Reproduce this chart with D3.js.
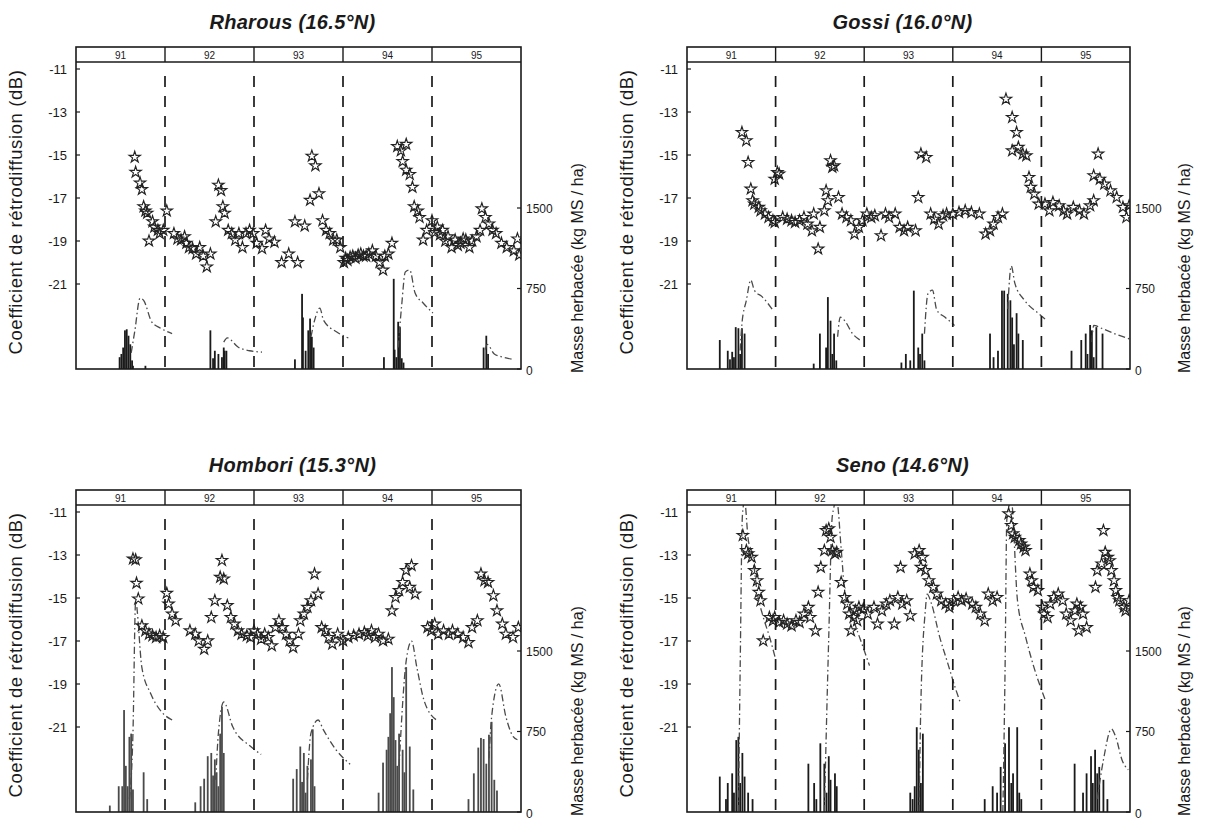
<!DOCTYPE html>
<html><head><meta charset="utf-8">
<script src="https://cdn.jsdelivr.net/npm/d3@7"></script>
<style>
body{margin:0;background:#fff;}
svg{display:block;font-family:"Liberation Sans",Arial,sans-serif;}
</style></head><body>
<svg id="c" width="1206" height="819"></svg>
<script>
const years = ["91","92","93","94","95"];
const dbTicks = [-11,-13,-15,-17,-19,-21];
const massTicks = [0,750,1500];
const siteNames = ["Rharous (16.5°N)","Gossi (16.0°N)","Hombori (15.3°N)","Seno (14.6°N)"];
const leftTitle = "Coefficient de rétrodiffusion (dB)";
const rightTitle = "Masse herbacée (kg MS / ha)";

// ---- Rharous ----
const rharousStars = [
[91.66,-15.1],[91.67,-15.8],[91.72,-16.3],[91.74,-16.6],[91.76,-17.4],[91.78,-17.6],[91.80,-17.7],[91.82,-19.0],[91.86,-18.1],[91.88,-18.35],[91.92,-18.5],[91.94,-18.65],[91.98,-18.5],
[92.02,-17.6],[92.10,-18.65],[92.14,-18.9],[92.18,-18.95],[92.22,-18.8],[92.24,-19.1],[92.27,-19.3],[92.31,-19.35],[92.35,-19.6],[92.39,-19.3],[92.43,-19.7],[92.47,-20.2],[92.51,-19.6],[92.57,-18.1],[92.60,-16.4],[92.63,-16.65],[92.65,-17.4],[92.67,-17.7],[92.71,-18.5],[92.75,-18.65],[92.79,-18.95],[92.83,-18.65],[92.87,-19.3],[92.91,-18.65],[92.95,-18.5],[92.99,-18.65],
[93.03,-19.1],[93.09,-19.35],[93.13,-18.5],[93.17,-18.9],[93.23,-19.05],[93.31,-20.0],[93.39,-19.6],[93.46,-18.1],[93.49,-20.0],[93.57,-18.3],[93.63,-17.1],[93.65,-15.05],[93.69,-15.5],[93.73,-16.8],[93.77,-18.05],[93.81,-18.5],[93.85,-18.65],[93.89,-18.95],[93.93,-18.95],[93.97,-19.3],
[94.01,-20.0],[94.03,-19.8],[94.05,-19.9],[94.08,-19.75],[94.11,-19.7],[94.14,-19.8],[94.17,-19.65],[94.20,-19.6],[94.23,-19.7],[94.26,-19.7],[94.29,-19.6],[94.33,-19.45],[94.37,-19.7],[94.41,-20.0],[94.45,-20.35],[94.47,-19.7],[94.51,-19.6],[94.55,-19.1],[94.61,-14.6],[94.65,-14.8],[94.67,-15.3],[94.71,-14.5],[94.71,-15.7],[94.75,-15.9],[94.78,-16.5],[94.80,-17.4],[94.84,-17.6],[94.86,-17.9],[94.90,-18.95],[94.94,-18.5],
[95.00,-18.05],[95.03,-18.6],[95.06,-18.35],[95.09,-18.7],[95.12,-18.5],[95.15,-19.0],[95.18,-18.8],[95.22,-19.3],[95.26,-18.95],[95.29,-19.2],[95.32,-19.1],[95.35,-18.9],[95.38,-18.95],[95.42,-19.3],[95.45,-19.0],[95.50,-18.8],[95.54,-18.5],[95.56,-17.5],[95.60,-17.9],[95.64,-18.2],[95.68,-18.5],[95.72,-18.65],[95.78,-19.1],[95.84,-19.3],[95.92,-19.45],[95.96,-18.9],[95.98,-19.65]
];
const rharousMass = [
[[91.62,150],[91.66,350],[91.72,660],[91.76,640],[91.85,440],[91.95,380],[92.08,330]],
[[92.66,250],[92.70,290],[92.82,205],[92.95,170],[93.09,158]],
[[93.64,300],[93.68,450],[93.74,568],[93.78,456],[93.93,345],[94.06,289]],
[[94.62,200],[94.66,600],[94.70,904],[94.75,922],[94.81,708],[94.90,615],[95.01,522]],
[[95.60,180],[95.62,230],[95.70,140],[95.80,110],[95.90,90]]
];
const rharousRain = [
[91.49,11],[91.51,14],[91.53,20],[91.55,36],[91.57,37],[91.59,31],[91.61,23],[91.63,8],[91.64,3],[91.78,3],
[92.51,36],[92.54,10],[92.56,17],[92.60,14],[92.64,11],[92.66,20],[92.67,17],[92.69,17],
[93.46,9],[93.54,70],[93.55,48],[93.58,17],[93.61,36],[93.63,47],[93.65,30],[93.67,20],
[94.46,11],[94.57,84],[94.58,18],[94.60,11],[94.62,44],[94.64,39],[94.66,10],[94.68,6],
[95.58,20],[95.61,31],[95.63,14]
];

// ---- Gossi ----
const gossiStars = [
[91.62,-13.95],[91.67,-14.33],[91.69,-15.34],[91.72,-16.58],[91.74,-17.12],[91.76,-17.28],[91.81,-17.43],[91.83,-17.59],[91.88,-17.74],[91.92,-17.9],[91.97,-18.05],[91.99,-18.13],[91.99,-16.12],
[92.02,-15.81],[92.04,-15.88],[92.08,-17.9],[92.13,-17.98],[92.18,-18.05],[92.22,-18.13],[92.27,-18.05],[92.32,-17.9],[92.36,-18.21],[92.41,-18.52],[92.43,-17.74],[92.48,-19.37],[92.50,-18.36],[92.55,-17.59],[92.57,-16.66],[92.59,-17.12],[92.62,-15.26],[92.64,-15.57],[92.66,-15.5],[92.71,-16.97],[92.75,-17.74],[92.80,-17.9],[92.85,-18.05],[92.89,-18.67],[92.94,-18.36],[92.98,-18.05],
[93.03,-17.74],[93.08,-17.9],[93.12,-17.82],[93.19,-18.75],[93.24,-17.74],[93.28,-17.9],[93.35,-17.74],[93.40,-18.36],[93.45,-18.52],[93.49,-18.36],[93.58,-18.52],[93.61,-16.97],[93.64,-14.95],[93.70,-15.11],[93.75,-17.74],[93.79,-17.98],[93.84,-18.21],[93.89,-17.82],[93.93,-17.74],
[94.00,-17.74],[94.07,-17.67],[94.14,-17.59],[94.21,-17.67],[94.30,-17.74],[94.37,-18.67],[94.42,-18.52],[94.46,-18.21],[94.51,-17.9],[94.56,-17.74],[94.60,-12.4],[94.67,-13.25],[94.72,-13.95],[94.67,-14.8],[94.74,-14.64],[94.79,-14.95],[94.83,-15.03],[94.86,-16.04],[94.88,-16.5],[94.92,-16.81],[94.97,-17.28],
[95.04,-17.28],[95.09,-17.59],[95.13,-17.2],[95.20,-17.36],[95.25,-17.59],[95.29,-17.74],[95.36,-17.43],[95.43,-17.59],[95.48,-17.74],[95.55,-17.36],[95.59,-17.12],[95.64,-14.95],[95.59,-15.96],[95.66,-16.12],[95.71,-16.35],[95.78,-16.66],[95.85,-16.97],[95.92,-17.43],[95.96,-17.9],[95.99,-17.36]
];
const gossiMass = [
[[91.60,172],[91.62,422],[91.67,640],[91.72,828],[91.76,734],[91.85,672],[91.97,547]],
[[92.70,300],[92.73,484],[92.78,450],[92.87,328],[92.96,266]],
[[93.68,328],[93.72,703],[93.77,734],[93.82,547],[93.91,484],[94.02,406]],
[[94.62,560],[94.66,960],[94.70,800],[94.81,640],[94.97,516],[95.06,453]],
[[95.57,250],[95.59,406],[95.69,375],[95.83,328],[95.99,281]]
];
const gossiRain = [
[91.37,27],[91.46,17],[91.485,9],[91.51,16],[91.53,11],[91.55,39],[91.58,38],[91.60,14],[91.62,38],[91.65,33],
[92.43,5],[92.50,33],[92.57,20],[92.59,67],[92.62,45],[92.64,14],[92.66,33],[92.685,8],
[93.42,6],[93.47,14],[93.52,8],[93.56,73],[93.61,20],[93.63,14],[93.655,33],[93.68,8],
[94.42,33],[94.46,11],[94.51,17],[94.555,73],[94.58,73],[94.62,70],[94.65,64],[94.67,48],[94.69,23],[94.72,52],[94.74,33],[94.79,27],
[95.34,17],[95.45,27],[95.50,33],[95.52,14],[95.55,41],[95.57,36],[95.59,11],[95.62,39],[95.69,33]
];

// ---- Hombori ----
const homboriStars = [
[91.64,-13.18],[91.67,-13.22],[91.68,-14.31],[91.70,-15.04],[91.74,-16.29],[91.78,-16.52],[91.82,-16.68],[91.86,-16.75],[91.90,-16.83],[91.94,-16.75],[91.98,-16.83],
[92.02,-14.78],[92.04,-15.28],[92.08,-15.74],[92.12,-16.05],[92.28,-16.52],[92.34,-16.68],[92.38,-16.99],[92.44,-17.38],[92.48,-16.99],[92.52,-15.9],[92.56,-15.12],[92.62,-14.03],[92.64,-13.25],[92.66,-14.11],[92.70,-15.35],[92.74,-15.9],[92.78,-16.21],[92.82,-16.52],[92.86,-16.68],[92.92,-16.75],[92.96,-16.83],
[93.00,-16.52],[93.04,-16.68],[93.08,-16.91],[93.12,-16.68],[93.16,-16.83],[93.20,-17.22],[93.24,-16.37],[93.28,-16.05],[93.32,-16.37],[93.36,-16.68],[93.40,-16.99],[93.44,-17.3],[93.50,-16.68],[93.52,-16.05],[93.56,-15.74],[93.60,-15.43],[93.64,-15.12],[93.68,-13.88],[93.72,-14.81],[93.76,-16.37],[93.80,-16.52],[93.84,-16.83],[93.88,-17.14],[93.94,-16.68],
[94.00,-16.99],[94.06,-16.83],[94.12,-16.75],[94.18,-16.68],[94.24,-16.6],[94.28,-16.75],[94.32,-16.52],[94.36,-16.83],[94.40,-16.68],[94.45,-16.99],[94.51,-16.91],[94.55,-15.59],[94.59,-14.97],[94.63,-14.65],[94.67,-14.27],[94.71,-13.72],[94.77,-13.49],[94.75,-14.5],[94.81,-14.81],[94.95,-16.37],[94.99,-16.52],
[95.03,-16.21],[95.07,-16.68],[95.13,-16.52],[95.19,-16.68],[95.23,-16.52],[95.29,-16.68],[95.35,-16.83],[95.41,-17.07],[95.45,-16.37],[95.51,-16.05],[95.55,-13.88],[95.59,-14.19],[95.63,-14.27],[95.69,-14.89],[95.73,-15.59],[95.79,-16.21],[95.83,-16.68],[95.91,-16.83],[95.97,-16.37]
];
const homboriMass = [
[[91.60,122],[91.64,735],[91.67,1959],[91.74,1347],[91.84,1102],[91.96,934],[92.08,857]],
[[92.57,300],[92.60,735],[92.66,1025],[92.76,796],[92.96,612],[93.08,536]],
[[93.60,300],[93.64,735],[93.72,857],[93.78,765],[93.92,582],[94.08,444]],
[[94.63,428],[94.71,1408],[94.77,1592],[94.83,1347],[94.91,1041],[95.05,857]],
[[95.64,500],[95.67,888],[95.75,1194],[95.83,888],[95.91,704],[95.96,673]]
];
const homboriRain = [
[91.38,6],[91.48,24],[91.52,24],[91.54,95],[91.56,43],[91.58,24],[91.60,70],[91.62,73],[91.64,21],[91.76,37],[91.80,12],
[92.34,9],[92.40,24],[92.44,31],[92.48,52],[92.52,55],[92.54,34],[92.56,49],[92.58,37],[92.60,24],[92.62,73],[92.64,98],[92.66,55],
[93.44,31],[93.48,40],[93.52,61],[93.54,28],[93.56,55],[93.58,18],[93.60,43],[93.64,49],[93.66,77],[93.68,24],
[94.40,18],[94.45,46],[94.49,58],[94.51,70],[94.53,92],[94.55,135],[94.57,107],[94.59,67],[94.61,43],[94.63,73],[94.67,58],[94.69,37],[94.71,135],[94.75,61],[94.79,21],
[95.41,12],[95.47,36],[95.52,60],[95.55,69],[95.58,68],[95.61,45],[95.64,72],[95.67,84],[95.70,30],[95.73,20]
];

// ---- Seno ----
const senoStars = [
[91.63,-12.09],[91.67,-12.79],[91.69,-12.94],[91.73,-13.1],[91.76,-13.72],[91.79,-14.19],[91.81,-14.73],[91.83,-15.12],[91.86,-16.99],[91.93,-15.9],[91.97,-16.05],[91.99,-15.9],
[92.04,-16.13],[92.09,-16.05],[92.13,-16.21],[92.18,-16.29],[92.23,-16.05],[92.27,-16.13],[92.32,-15.74],[92.37,-15.43],[92.39,-15.9],[92.45,-16.52],[92.48,-14.73],[92.51,-13.57],[92.55,-12.79],[92.57,-11.86],[92.60,-11.78],[92.62,-12.17],[92.64,-12.79],[92.67,-12.94],[92.69,-12.87],[92.74,-14.27],[92.78,-14.97],[92.81,-15.28],[92.83,-15.74],[92.85,-16.52],[92.88,-15.9],[92.90,-15.59],[92.92,-16.05],[92.94,-15.43],[92.99,-15.51],
[93.04,-15.74],[93.11,-15.43],[93.15,-16.21],[93.20,-15.59],[93.25,-15.28],[93.29,-15.12],[93.34,-16.21],[93.38,-14.97],[93.41,-13.57],[93.43,-15.28],[93.48,-15.12],[93.52,-15.82],[93.57,-12.94],[93.62,-12.79],[93.66,-13.1],[93.64,-13.57],[93.69,-13.72],[93.73,-14.19],[93.78,-14.5],[93.82,-14.81],[93.87,-15.12],[93.92,-15.28],[93.96,-15.43],
[94.01,-15.12],[94.06,-14.97],[94.10,-15.12],[94.15,-15.04],[94.22,-15.28],[94.26,-15.43],[94.31,-15.74],[94.36,-16.05],[94.40,-14.81],[94.45,-15.12],[94.50,-14.97],[94.63,-11.08],[94.66,-11.62],[94.68,-12.01],[94.70,-12.17],[94.75,-12.32],[94.77,-12.48],[94.80,-12.63],[94.82,-12.79],[94.87,-13.88],[94.89,-14.19],[94.91,-14.5],[94.96,-14.65],
[95.01,-15.43],[95.03,-15.74],[95.07,-15.9],[95.10,-15.28],[95.14,-14.97],[95.19,-14.81],[95.24,-15.12],[95.28,-15.74],[95.33,-16.05],[95.38,-15.59],[95.40,-15.28],[95.42,-16.52],[95.44,-15.43],[95.47,-15.74],[95.51,-16.37],[95.61,-14.5],[95.63,-13.72],[95.68,-13.41],[95.70,-11.86],[95.72,-12.87],[95.75,-13.1],[95.77,-13.26],[95.79,-13.72],[95.82,-14.19],[95.84,-14.65],[95.86,-14.97],[95.88,-15.12],[95.93,-15.43],[95.95,-15.59],[95.99,-15.12]
];
const senoMass = [
[[91.58,0],[91.60,1333],[91.625,2757],[91.65,2900],[91.69,2545],[91.74,2394],[91.79,2060],[91.86,1818],[91.93,1636],[92.00,1424]],
[[92.55,0],[92.60,1636],[92.64,2757],[92.69,2900],[92.74,2454],[92.78,2060],[92.88,1788],[92.97,1576],[93.06,1364]],
[[93.62,0],[93.64,1030],[93.69,1879],[93.71,2030],[93.76,1939],[93.85,1636],[93.94,1394],[94.03,1151],[94.08,1030]],
[[94.565,0],[94.59,1333],[94.61,2727],[94.66,2900],[94.73,1970],[94.82,1636],[94.91,1364],[95.05,1030]],
[[95.63,120],[95.70,485],[95.79,773],[95.84,697],[95.91,485],[95.98,394]]
];
const senoRain = [
[91.37,33],[91.44,12],[91.46,27],[91.51,36],[91.53,18],[91.556,67],[91.58,70],[91.60,27],[91.625,55],[91.65,33],[91.69,18],[91.74,12],
[92.37,45],[92.435,27],[92.46,12],[92.505,64],[92.55,45],[92.575,18],[92.60,52],[92.62,30],[92.67,36],[92.69,24],
[93.52,18],[93.546,12],[93.57,24],[93.593,79],[93.616,58],[93.64,27],[93.662,73],
[94.36,12],[94.45,24],[94.50,18],[94.54,42],[94.59,64],[94.634,79],[94.66,27],[94.68,36],[94.727,79],[94.75,18],[94.773,12],
[95.375,45],[95.47,18],[95.51,36],[95.56,52],[95.58,27],[95.606,58],[95.63,36],[95.653,42],[95.70,30],[95.745,12]
];

const panels = [
  {title: siteNames[0], stars: rharousStars, mass: rharousMass, rain: rharousRain, left: 76,  right: 521,  top: 47,  lx: 22,  rx: 583, barColor:"#1a1a1a"},
  {title: siteNames[1], stars: gossiStars,   mass: gossiMass,   rain: gossiRain,   left: 687, right: 1130, top: 47,  lx: 633, rx: 1190, barColor:"#1a1a1a"},
  {title: siteNames[2], stars: homboriStars, mass: homboriMass, rain: homboriRain, left: 76,  right: 521,  top: 490, lx: 22,  rx: 583, barColor:"#4a4a4a"},
  {title: siteNames[3], stars: senoStars,    mass: senoMass,    rain: senoRain,    left: 687, right: 1130, top: 490, lx: 633, rx: 1190, barColor:"#1a1a1a"}
];

const svg = d3.select("#c");
const ink = "#1a1a1a";
const star = d3.symbol().type(d3.symbolStar).size(40);

panels.forEach((p, i) => {
  const stripH = 15;
  const plotTop = p.top + stripH;
  const bottom = p.top + 322;
  const g = svg.append("g");

  const x = d3.scaleLinear().domain([91, 96]).range([p.left, p.right]);
  const yDb = d3.scaleLinear().domain([-11, -21]).range([plotTop + 7, plotTop + 7 + 215]);
  const yMass = d3.scaleLinear().domain([0, 1500]).range([bottom, bottom - 161]);
  const yRain = d3.scaleLinear().domain([0, 150]).range([bottom, bottom - 161]);

  const clipId = "clip" + i;
  g.append("clipPath").attr("id", clipId).append("rect")
    .attr("x", p.left).attr("y", plotTop).attr("width", p.right - p.left).attr("height", bottom - plotTop);
  const inner = g.append("g").attr("clip-path", `url(#${clipId})`);

  // title
  g.append("text").attr("x", (p.left + p.right) / 2 - 6).attr("y", p.top - 18)
    .attr("text-anchor", "middle").attr("font-size", 20).attr("font-weight", "bold").attr("font-style", "italic")
    .attr("letter-spacing", 0.3).attr("fill", ink).text(p.title);

  // year strip
  const bounds = d3.range(92, 96);
  g.selectAll(".ydiv").data(bounds).join("line")
    .attr("x1", d => x(d)).attr("x2", d => x(d)).attr("y1", p.top).attr("y2", plotTop)
    .attr("stroke", ink).attr("stroke-width", 1.4);
  g.selectAll(".ylab").data(years).join("text")
    .attr("x", (d, k) => x(91 + k + 0.5)).attr("y", p.top + 11.5)
    .attr("text-anchor", "middle").attr("font-size", 10).attr("fill", ink).text(d => d);
  g.append("line").attr("x1", p.left).attr("x2", p.right).attr("y1", plotTop).attr("y2", plotTop)
    .attr("stroke", ink).attr("stroke-width", 1.4);

  // dashed year dividers
  g.selectAll(".dash").data(bounds).join("line")
    .attr("x1", d => x(d)).attr("x2", d => x(d)).attr("y1", plotTop + 14).attr("y2", bottom)
    .attr("stroke", ink).attr("stroke-width", 1.7).attr("stroke-dasharray", "11,9");

  // rain bars
  inner.selectAll(".bar").data(p.rain).join("rect")
    .attr("x", d => x(d[0]) - 0.9).attr("width", 1.8)
    .attr("y", d => yRain(d[1])).attr("height", d => bottom - yRain(d[1]))
    .attr("fill", p.barColor);

  // herbaceous mass (dash-dot)
  const line = d3.line().x(d => x(d[0])).y(d => yMass(d[1])).curve(d3.curveMonotoneX);
  inner.selectAll(".mass").data(p.mass).join("path")
    .attr("d", line).attr("fill", "none").attr("stroke", "#4a4a4a").attr("stroke-width", 1.3)
    .attr("stroke-dasharray", "7,3,1.5,3");

  // stars
  inner.selectAll(".st").data(p.stars).join("path")
    .attr("d", star).attr("transform", d => `translate(${x(d[0])},${yDb(d[1])})`)
    .attr("fill", "none").attr("stroke", "#222").attr("stroke-width", 1.15);

  // frame
  g.append("rect").attr("x", p.left).attr("y", p.top).attr("width", p.right - p.left).attr("height", bottom - p.top)
    .attr("fill", "none").attr("stroke", ink).attr("stroke-width", 1.6);

  // left ticks
  g.selectAll(".lt").data(dbTicks).join("line")
    .attr("x1", p.left).attr("x2", p.left + 4).attr("y1", d => yDb(d)).attr("y2", d => yDb(d))
    .attr("stroke", ink).attr("stroke-width", 1.2);
  g.selectAll(".ll").data(dbTicks).join("text")
    .attr("x", p.left - 9).attr("y", d => yDb(d) + 4.5).attr("text-anchor", "end")
    .attr("font-size", 13).attr("fill", ink).text(d => d);

  // right ticks
  g.selectAll(".rt").data(massTicks).join("line")
    .attr("x1", p.right - 4).attr("x2", p.right).attr("y1", d => yMass(d)).attr("y2", d => yMass(d))
    .attr("stroke", ink).attr("stroke-width", 1.2);
  g.selectAll(".rl").data(massTicks).join("text")
    .attr("x", p.right + 5).attr("y", d => yMass(d) + (d === 0 ? 5.5 : 4.5))
    .attr("font-size", 12).attr("fill", ink).text(d => d);

  // axis titles
  g.append("text").attr("transform", `translate(${p.lx},${(p.top + bottom) / 2 + 4}) rotate(-90)`)
    .attr("text-anchor", "middle").attr("font-size", 18.5).attr("letter-spacing", 0.6).attr("fill", ink).text(leftTitle);
  g.append("text").attr("transform", `translate(${p.rx},${bottom + 4}) rotate(-90)`)
    .attr("text-anchor", "start").attr("font-size", 16).attr("fill", ink).text(rightTitle);
});
</script>
</body></html>
